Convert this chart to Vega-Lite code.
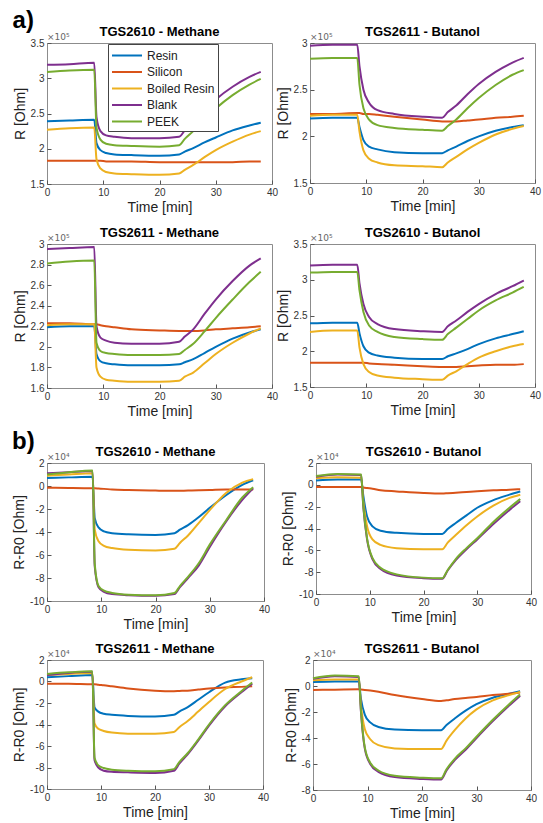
{
"$schema":"https://vega.github.io/schema/vega-lite/v6.json",
"padding":{"left":12,"top":8,"right":0,"bottom":2},
"datasets":{"w":[
{"p":"a1","t":0,"Resin":2.39,"Silicon":1.83,"Boiled Resin":2.27,"Blank":3.19,"PEEK":3.09},
{"p":"a1","t":4,"Resin":2.40,"Silicon":1.83,"Boiled Resin":2.29,"Blank":3.20,"PEEK":3.11},
{"p":"a1","t":8.4,"Resin":2.41,"Silicon":1.83,"Boiled Resin":2.30,"Blank":3.22,"PEEK":3.12},
{"p":"a1","t":8.8,"Resin":2.08,"Silicon":1.83,"Boiled Resin":1.85,"Blank":2.45,"PEEK":2.30},
{"p":"a1","t":9.5,"Resin":1.98,"Silicon":1.83,"Boiled Resin":1.72,"Blank":2.25,"PEEK":2.13},
{"p":"a1","t":10.5,"Resin":1.94,"Silicon":1.82,"Boiled Resin":1.67,"Blank":2.19,"PEEK":2.07},
{"p":"a1","t":12,"Resin":1.92,"Silicon":1.82,"Boiled Resin":1.65,"Blank":2.17,"PEEK":2.05},
{"p":"a1","t":15,"Resin":1.91,"Silicon":1.82,"Boiled Resin":1.64,"Blank":2.15,"PEEK":2.04},
{"p":"a1","t":20,"Resin":1.90,"Silicon":1.81,"Boiled Resin":1.63,"Blank":2.15,"PEEK":2.03},
{"p":"a1","t":23.5,"Resin":1.92,"Silicon":1.81,"Boiled Resin":1.65,"Blank":2.17,"PEEK":2.05},
{"p":"a1","t":24.5,"Resin":1.96,"Silicon":1.81,"Boiled Resin":1.70,"Blank":2.26,"PEEK":2.14},
{"p":"a1","t":26,"Resin":2.01,"Silicon":1.81,"Boiled Resin":1.77,"Blank":2.38,"PEEK":2.25},
{"p":"a1","t":28,"Resin":2.09,"Silicon":1.81,"Boiled Resin":1.88,"Blank":2.55,"PEEK":2.42},
{"p":"a1","t":30,"Resin":2.16,"Silicon":1.81,"Boiled Resin":1.98,"Blank":2.70,"PEEK":2.57},
{"p":"a1","t":33,"Resin":2.26,"Silicon":1.81,"Boiled Resin":2.10,"Blank":2.88,"PEEK":2.76},
{"p":"a1","t":36,"Resin":2.33,"Silicon":1.82,"Boiled Resin":2.20,"Blank":3.02,"PEEK":2.91},
{"p":"a1","t":38,"Resin":2.37,"Silicon":1.82,"Boiled Resin":2.25,"Blank":3.09,"PEEK":2.99},
{"p":"a2","t":0,"Resin":2.19,"Silicon":2.24,"Boiled Resin":2.22,"Blank":2.97,"PEEK":2.83},
{"p":"a2","t":4,"Resin":2.20,"Silicon":2.24,"Boiled Resin":2.23,"Blank":2.98,"PEEK":2.84},
{"p":"a2","t":8.4,"Resin":2.20,"Silicon":2.25,"Boiled Resin":2.23,"Blank":2.98,"PEEK":2.84},
{"p":"a2","t":8.8,"Resin":2.10,"Silicon":2.25,"Boiled Resin":2.05,"Blank":2.75,"PEEK":2.55},
{"p":"a2","t":9.5,"Resin":1.96,"Silicon":2.24,"Boiled Resin":1.85,"Blank":2.50,"PEEK":2.30},
{"p":"a2","t":10.5,"Resin":1.89,"Silicon":2.24,"Boiled Resin":1.76,"Blank":2.36,"PEEK":2.18},
{"p":"a2","t":12,"Resin":1.86,"Silicon":2.23,"Boiled Resin":1.72,"Blank":2.28,"PEEK":2.12},
{"p":"a2","t":15,"Resin":1.83,"Silicon":2.21,"Boiled Resin":1.69,"Blank":2.24,"PEEK":2.09},
{"p":"a2","t":20,"Resin":1.82,"Silicon":2.18,"Boiled Resin":1.68,"Blank":2.21,"PEEK":2.07},
{"p":"a2","t":23.5,"Resin":1.82,"Silicon":2.16,"Boiled Resin":1.67,"Blank":2.20,"PEEK":2.06},
{"p":"a2","t":24.5,"Resin":1.85,"Silicon":2.16,"Boiled Resin":1.72,"Blank":2.26,"PEEK":2.11},
{"p":"a2","t":26,"Resin":1.89,"Silicon":2.16,"Boiled Resin":1.78,"Blank":2.33,"PEEK":2.18},
{"p":"a2","t":28,"Resin":1.95,"Silicon":2.17,"Boiled Resin":1.86,"Blank":2.45,"PEEK":2.30},
{"p":"a2","t":30,"Resin":2.00,"Silicon":2.18,"Boiled Resin":1.93,"Blank":2.56,"PEEK":2.41},
{"p":"a2","t":33,"Resin":2.06,"Silicon":2.20,"Boiled Resin":2.02,"Blank":2.69,"PEEK":2.55},
{"p":"a2","t":36,"Resin":2.10,"Silicon":2.21,"Boiled Resin":2.08,"Blank":2.79,"PEEK":2.66},
{"p":"a2","t":38,"Resin":2.12,"Silicon":2.22,"Boiled Resin":2.11,"Blank":2.84,"PEEK":2.71},
{"p":"a3","t":0,"Resin":2.19,"Silicon":2.23,"Boiled Resin":2.21,"Blank":2.95,"PEEK":2.81},
{"p":"a3","t":4,"Resin":2.20,"Silicon":2.23,"Boiled Resin":2.22,"Blank":2.96,"PEEK":2.83},
{"p":"a3","t":8.4,"Resin":2.20,"Silicon":2.22,"Boiled Resin":2.22,"Blank":2.97,"PEEK":2.84},
{"p":"a3","t":8.8,"Resin":1.93,"Silicon":2.22,"Boiled Resin":1.80,"Blank":2.20,"PEEK":2.04},
{"p":"a3","t":9.5,"Resin":1.86,"Silicon":2.21,"Boiled Resin":1.71,"Blank":2.09,"PEEK":1.96},
{"p":"a3","t":10.5,"Resin":1.84,"Silicon":2.20,"Boiled Resin":1.68,"Blank":2.06,"PEEK":1.94},
{"p":"a3","t":12,"Resin":1.83,"Silicon":2.19,"Boiled Resin":1.67,"Blank":2.04,"PEEK":1.93},
{"p":"a3","t":15,"Resin":1.82,"Silicon":2.17,"Boiled Resin":1.66,"Blank":2.03,"PEEK":1.92},
{"p":"a3","t":20,"Resin":1.82,"Silicon":2.16,"Boiled Resin":1.66,"Blank":2.03,"PEEK":1.92},
{"p":"a3","t":23.5,"Resin":1.83,"Silicon":2.155,"Boiled Resin":1.67,"Blank":2.05,"PEEK":1.93},
{"p":"a3","t":24.5,"Resin":1.85,"Silicon":2.155,"Boiled Resin":1.71,"Blank":2.10,"PEEK":1.97},
{"p":"a3","t":26,"Resin":1.88,"Silicon":2.155,"Boiled Resin":1.75,"Blank":2.17,"PEEK":2.03},
{"p":"a3","t":28,"Resin":1.94,"Silicon":2.16,"Boiled Resin":1.84,"Blank":2.32,"PEEK":2.15},
{"p":"a3","t":30,"Resin":2.00,"Silicon":2.17,"Boiled Resin":1.93,"Blank":2.46,"PEEK":2.28},
{"p":"a3","t":33,"Resin":2.08,"Silicon":2.18,"Boiled Resin":2.04,"Blank":2.64,"PEEK":2.46},
{"p":"a3","t":36,"Resin":2.14,"Silicon":2.19,"Boiled Resin":2.13,"Blank":2.79,"PEEK":2.63},
{"p":"a3","t":38,"Resin":2.17,"Silicon":2.20,"Boiled Resin":2.18,"Blank":2.86,"PEEK":2.73},
{"p":"a4","t":0,"Resin":2.39,"Silicon":1.84,"Boiled Resin":2.27,"Blank":3.20,"PEEK":3.10},
{"p":"a4","t":4,"Resin":2.40,"Silicon":1.84,"Boiled Resin":2.29,"Blank":3.21,"PEEK":3.11},
{"p":"a4","t":8.4,"Resin":2.40,"Silicon":1.84,"Boiled Resin":2.29,"Blank":3.21,"PEEK":3.11},
{"p":"a4","t":8.8,"Resin":2.25,"Silicon":1.84,"Boiled Resin":2.05,"Blank":2.95,"PEEK":2.85},
{"p":"a4","t":9.5,"Resin":2.07,"Silicon":1.84,"Boiled Resin":1.82,"Blank":2.66,"PEEK":2.55},
{"p":"a4","t":10.5,"Resin":1.98,"Silicon":1.83,"Boiled Resin":1.71,"Blank":2.48,"PEEK":2.36},
{"p":"a4","t":12,"Resin":1.94,"Silicon":1.82,"Boiled Resin":1.66,"Blank":2.38,"PEEK":2.27},
{"p":"a4","t":15,"Resin":1.91,"Silicon":1.81,"Boiled Resin":1.63,"Blank":2.31,"PEEK":2.20},
{"p":"a4","t":20,"Resin":1.89,"Silicon":1.79,"Boiled Resin":1.61,"Blank":2.28,"PEEK":2.17},
{"p":"a4","t":23.5,"Resin":1.89,"Silicon":1.78,"Boiled Resin":1.60,"Blank":2.27,"PEEK":2.16},
{"p":"a4","t":24.5,"Resin":1.93,"Silicon":1.78,"Boiled Resin":1.66,"Blank":2.35,"PEEK":2.24},
{"p":"a4","t":26,"Resin":1.97,"Silicon":1.78,"Boiled Resin":1.72,"Blank":2.43,"PEEK":2.33},
{"p":"a4","t":28,"Resin":2.03,"Silicon":1.79,"Boiled Resin":1.82,"Blank":2.55,"PEEK":2.45},
{"p":"a4","t":30,"Resin":2.10,"Silicon":1.80,"Boiled Resin":1.91,"Blank":2.66,"PEEK":2.57},
{"p":"a4","t":33,"Resin":2.18,"Silicon":1.81,"Boiled Resin":2.00,"Blank":2.80,"PEEK":2.71},
{"p":"a4","t":36,"Resin":2.24,"Silicon":1.81,"Boiled Resin":2.07,"Blank":2.91,"PEEK":2.82},
{"p":"a4","t":38,"Resin":2.28,"Silicon":1.82,"Boiled Resin":2.10,"Blank":2.99,"PEEK":2.90},
{"p":"b1","t":0,"Resin":0.7,"Silicon":-0.15,"Boiled Resin":0.9,"Blank":1.1,"PEEK":1.0},
{"p":"b1","t":4,"Resin":0.75,"Silicon":-0.18,"Boiled Resin":1.0,"Blank":1.2,"PEEK":1.2},
{"p":"b1","t":8.4,"Resin":0.8,"Silicon":-0.2,"Boiled Resin":1.1,"Blank":1.3,"PEEK":1.35},
{"p":"b1","t":8.8,"Resin":-2.8,"Silicon":-0.2,"Boiled Resin":-3.8,"Blank":-7.0,"PEEK":-6.8},
{"p":"b1","t":9.5,"Resin":-3.6,"Silicon":-0.22,"Boiled Resin":-4.8,"Blank":-8.8,"PEEK":-8.7},
{"p":"b1","t":10.5,"Resin":-3.95,"Silicon":-0.25,"Boiled Resin":-5.2,"Blank":-9.2,"PEEK":-9.1},
{"p":"b1","t":12,"Resin":-4.1,"Silicon":-0.3,"Boiled Resin":-5.4,"Blank":-9.4,"PEEK":-9.3},
{"p":"b1","t":15,"Resin":-4.2,"Silicon":-0.35,"Boiled Resin":-5.55,"Blank":-9.5,"PEEK":-9.45},
{"p":"b1","t":20,"Resin":-4.25,"Silicon":-0.4,"Boiled Resin":-5.6,"Blank":-9.55,"PEEK":-9.5},
{"p":"b1","t":23.5,"Resin":-4.1,"Silicon":-0.42,"Boiled Resin":-5.45,"Blank":-9.4,"PEEK":-9.3},
{"p":"b1","t":24.5,"Resin":-3.8,"Silicon":-0.41,"Boiled Resin":-4.95,"Blank":-8.8,"PEEK":-8.7},
{"p":"b1","t":26,"Resin":-3.4,"Silicon":-0.4,"Boiled Resin":-4.3,"Blank":-8.0,"PEEK":-7.9},
{"p":"b1","t":28,"Resin":-2.7,"Silicon":-0.38,"Boiled Resin":-3.2,"Blank":-6.9,"PEEK":-6.7},
{"p":"b1","t":30,"Resin":-1.9,"Silicon":-0.35,"Boiled Resin":-2.1,"Blank":-5.3,"PEEK":-5.1},
{"p":"b1","t":33,"Resin":-0.8,"Silicon":-0.3,"Boiled Resin":-0.6,"Blank":-3.1,"PEEK":-3.0},
{"p":"b1","t":36,"Resin":0.1,"Silicon":-0.3,"Boiled Resin":0.3,"Blank":-1.2,"PEEK":-1.0},
{"p":"b1","t":38,"Resin":0.5,"Silicon":-0.3,"Boiled Resin":0.6,"Blank":-0.2,"PEEK":-0.1},
{"p":"b2","t":0,"Resin":0.4,"Silicon":-0.2,"Boiled Resin":0.6,"Blank":0.75,"PEEK":0.8},
{"p":"b2","t":4,"Resin":0.5,"Silicon":-0.2,"Boiled Resin":0.7,"Blank":0.95,"PEEK":1.0},
{"p":"b2","t":8.4,"Resin":0.5,"Silicon":-0.2,"Boiled Resin":0.65,"Blank":0.9,"PEEK":0.95},
{"p":"b2","t":8.8,"Resin":-1.0,"Silicon":-0.25,"Boiled Resin":-1.5,"Blank":-2.0,"PEEK":-1.9},
{"p":"b2","t":9.5,"Resin":-2.9,"Silicon":-0.3,"Boiled Resin":-3.8,"Blank":-5.0,"PEEK":-4.9},
{"p":"b2","t":10.5,"Resin":-3.8,"Silicon":-0.35,"Boiled Resin":-5.0,"Blank":-6.8,"PEEK":-6.7},
{"p":"b2","t":12,"Resin":-4.2,"Silicon":-0.5,"Boiled Resin":-5.5,"Blank":-7.7,"PEEK":-7.6},
{"p":"b2","t":15,"Resin":-4.4,"Silicon":-0.6,"Boiled Resin":-5.8,"Blank":-8.3,"PEEK":-8.2},
{"p":"b2","t":20,"Resin":-4.5,"Silicon":-0.75,"Boiled Resin":-5.9,"Blank":-8.55,"PEEK":-8.5},
{"p":"b2","t":23.5,"Resin":-4.5,"Silicon":-0.8,"Boiled Resin":-5.9,"Blank":-8.6,"PEEK":-8.55},
{"p":"b2","t":24.5,"Resin":-4.05,"Silicon":-0.77,"Boiled Resin":-5.3,"Blank":-7.85,"PEEK":-7.8},
{"p":"b2","t":26,"Resin":-3.5,"Silicon":-0.72,"Boiled Resin":-4.6,"Blank":-6.9,"PEEK":-6.8},
{"p":"b2","t":28,"Resin":-2.8,"Silicon":-0.65,"Boiled Resin":-3.7,"Blank":-5.9,"PEEK":-5.8},
{"p":"b2","t":30,"Resin":-2.1,"Silicon":-0.58,"Boiled Resin":-2.9,"Blank":-5.0,"PEEK":-4.9},
{"p":"b2","t":33,"Resin":-1.4,"Silicon":-0.5,"Boiled Resin":-1.9,"Blank":-3.6,"PEEK":-3.4},
{"p":"b2","t":36,"Resin":-0.9,"Silicon":-0.45,"Boiled Resin":-1.2,"Blank":-2.3,"PEEK":-2.1},
{"p":"b2","t":38,"Resin":-0.6,"Silicon":-0.4,"Boiled Resin":-0.9,"Blank":-1.5,"PEEK":-1.3},
{"p":"b3","t":0,"Resin":0.4,"Silicon":-0.2,"Boiled Resin":0.6,"Blank":0.6,"PEEK":0.7},
{"p":"b3","t":4,"Resin":0.5,"Silicon":-0.2,"Boiled Resin":0.7,"Blank":0.8,"PEEK":0.85},
{"p":"b3","t":8.4,"Resin":0.6,"Silicon":-0.25,"Boiled Resin":0.8,"Blank":0.9,"PEEK":0.95},
{"p":"b3","t":8.8,"Resin":-2.4,"Silicon":-0.25,"Boiled Resin":-3.9,"Blank":-7.3,"PEEK":-7.1},
{"p":"b3","t":9.5,"Resin":-2.8,"Silicon":-0.3,"Boiled Resin":-4.4,"Blank":-8.0,"PEEK":-7.8},
{"p":"b3","t":10.5,"Resin":-3.0,"Silicon":-0.35,"Boiled Resin":-4.6,"Blank":-8.3,"PEEK":-8.05},
{"p":"b3","t":12,"Resin":-3.1,"Silicon":-0.45,"Boiled Resin":-4.75,"Blank":-8.4,"PEEK":-8.2},
{"p":"b3","t":15,"Resin":-3.2,"Silicon":-0.65,"Boiled Resin":-4.85,"Blank":-8.45,"PEEK":-8.3},
{"p":"b3","t":20,"Resin":-3.25,"Silicon":-0.85,"Boiled Resin":-4.85,"Blank":-8.5,"PEEK":-8.35},
{"p":"b3","t":23.5,"Resin":-3.1,"Silicon":-0.9,"Boiled Resin":-4.7,"Blank":-8.3,"PEEK":-8.15},
{"p":"b3","t":24.5,"Resin":-2.8,"Silicon":-0.88,"Boiled Resin":-4.25,"Blank":-7.65,"PEEK":-7.5},
{"p":"b3","t":26,"Resin":-2.4,"Silicon":-0.85,"Boiled Resin":-3.7,"Blank":-6.8,"PEEK":-6.7},
{"p":"b3","t":28,"Resin":-1.7,"Silicon":-0.75,"Boiled Resin":-2.8,"Blank":-5.5,"PEEK":-5.4},
{"p":"b3","t":30,"Resin":-1.0,"Silicon":-0.65,"Boiled Resin":-1.9,"Blank":-4.1,"PEEK":-4.0},
{"p":"b3","t":33,"Resin":-0.1,"Silicon":-0.55,"Boiled Resin":-0.7,"Blank":-2.3,"PEEK":-2.2},
{"p":"b3","t":36,"Resin":0.2,"Silicon":-0.5,"Boiled Resin":0.0,"Blank":-1.0,"PEEK":-0.9},
{"p":"b3","t":38,"Resin":0.3,"Silicon":-0.45,"Boiled Resin":0.4,"Blank":-0.2,"PEEK":-0.1},
{"p":"b4","t":0,"Resin":0.3,"Silicon":-0.3,"Boiled Resin":0.45,"Blank":0.55,"PEEK":0.6},
{"p":"b4","t":4,"Resin":0.35,"Silicon":-0.28,"Boiled Resin":0.5,"Blank":0.75,"PEEK":0.8},
{"p":"b4","t":8.4,"Resin":0.35,"Silicon":-0.25,"Boiled Resin":0.5,"Blank":0.7,"PEEK":0.75},
{"p":"b4","t":8.8,"Resin":-1.0,"Silicon":-0.27,"Boiled Resin":-1.5,"Blank":-2.0,"PEEK":-1.9},
{"p":"b4","t":9.5,"Resin":-2.2,"Silicon":-0.3,"Boiled Resin":-3.3,"Blank":-4.8,"PEEK":-4.7},
{"p":"b4","t":10.5,"Resin":-2.8,"Silicon":-0.35,"Boiled Resin":-4.1,"Blank":-6.0,"PEEK":-5.9},
{"p":"b4","t":12,"Resin":-3.15,"Silicon":-0.45,"Boiled Resin":-4.55,"Blank":-6.6,"PEEK":-6.5},
{"p":"b4","t":15,"Resin":-3.35,"Silicon":-0.7,"Boiled Resin":-4.8,"Blank":-7.0,"PEEK":-6.9},
{"p":"b4","t":20,"Resin":-3.4,"Silicon":-1.0,"Boiled Resin":-4.85,"Blank":-7.15,"PEEK":-7.05},
{"p":"b4","t":23.5,"Resin":-3.4,"Silicon":-1.15,"Boiled Resin":-4.85,"Blank":-7.2,"PEEK":-7.1},
{"p":"b4","t":24.5,"Resin":-3.0,"Silicon":-1.1,"Boiled Resin":-4.2,"Blank":-6.5,"PEEK":-6.4},
{"p":"b4","t":26,"Resin":-2.5,"Silicon":-1.0,"Boiled Resin":-3.4,"Blank":-5.7,"PEEK":-5.6},
{"p":"b4","t":28,"Resin":-1.9,"Silicon":-0.92,"Boiled Resin":-2.5,"Blank":-4.9,"PEEK":-4.8},
{"p":"b4","t":30,"Resin":-1.4,"Silicon":-0.85,"Boiled Resin":-1.8,"Blank":-4.0,"PEEK":-3.9},
{"p":"b4","t":33,"Resin":-0.9,"Silicon":-0.7,"Boiled Resin":-1.1,"Blank":-2.7,"PEEK":-2.6},
{"p":"b4","t":36,"Resin":-0.6,"Silicon":-0.6,"Boiled Resin":-0.7,"Blank":-1.5,"PEEK":-1.4},
{"p":"b4","t":38,"Resin":-0.4,"Silicon":-0.5,"Boiled Resin":-0.45,"Blank":-0.75,"PEEK":-0.65}
]},
"vconcat":[
{"title":{"text":"a)","anchor":"start","frame":"bounds","fontSize":24,"fontWeight":"bold","offset":-7},
 "spacing":11,
 "vconcat":[
 {"spacing":-4,"hconcat":[
  {"title":"TGS2610 - Methane","width":225,"height":141,"layer":[
   {"data":{"name":"w"},"transform":[{"filter":"datum.p=='a1'"},{"fold":["Resin","Silicon","Boiled Resin","Blank","PEEK"],"as":["m","v"]}],
    "mark":{"type":"line","strokeWidth":2,"interpolate":"monotone"},
    "encoding":{"x":{"field":"t","type":"quantitative","scale":{"domain":[0,40],"nice":false},"axis":{"title":"Time [min]","values":[0,10,20,30,40],"tickCount":20}},
     "y":{"field":"v","type":"quantitative","scale":{"domain":[1.5,3.5],"nice":false,"zero":false},"axis":{"title":"R [Ohm]","values":[1.5,2,2.5,3,3.5],"labelExpr":"''+datum.value","tickCount":20}},
     "color":{"field":"m","type":"nominal","scale":{"domain":["Resin","Silicon","Boiled Resin","Blank","PEEK"],"range":["#0072BD","#D95319","#EDB120","#7E2F8E","#77AC30"]},"legend":{"title":null}}}},
   {"data":{"values":[{}]},"mark":{"type":"text","align":"left","baseline":"bottom","fontSize":9,"color":"#666","dy":-1,"font":"DejaVu Sans"},
    "encoding":{"x":{"datum":0},"y":{"datum":3.5},"text":{"value":"×10⁵"}}}]},
  {"title":"TGS2611 - Butanol","width":225,"height":140,"layer":[
   {"data":{"name":"w"},"transform":[{"filter":"datum.p=='a2'"},{"fold":["Resin","Silicon","Boiled Resin","Blank","PEEK"],"as":["m","v"]}],
    "mark":{"type":"line","strokeWidth":2,"interpolate":"monotone"},
    "encoding":{"x":{"field":"t","type":"quantitative","scale":{"domain":[0,40],"nice":false},"axis":{"title":"Time [min]","values":[0,10,20,30,40],"tickCount":20}},
     "y":{"field":"v","type":"quantitative","scale":{"domain":[1.5,3],"nice":false,"zero":false},"axis":{"title":"R [Ohm]","values":[1.5,2,2.5,3],"labelExpr":"''+datum.value","tickCount":20}},
     "color":{"field":"m","type":"nominal","scale":{"domain":["Resin","Silicon","Boiled Resin","Blank","PEEK"],"range":["#0072BD","#D95319","#EDB120","#7E2F8E","#77AC30"]},"legend":{"title":null}}}},
   {"data":{"values":[{}]},"mark":{"type":"text","align":"left","baseline":"bottom","fontSize":9,"color":"#666","dy":-1,"font":"DejaVu Sans"},
    "encoding":{"x":{"datum":0},"y":{"datum":3},"text":{"value":"×10⁵"}}}]}
 ]},
 {"spacing":-4,"hconcat":[
  {"title":"TGS2611 - Methane","width":225,"height":144,"layer":[
   {"data":{"name":"w"},"transform":[{"filter":"datum.p=='a3'"},{"fold":["Resin","Silicon","Boiled Resin","Blank","PEEK"],"as":["m","v"]}],
    "mark":{"type":"line","strokeWidth":2,"interpolate":"monotone"},
    "encoding":{"x":{"field":"t","type":"quantitative","scale":{"domain":[0,40],"nice":false},"axis":{"title":"Time [min]","values":[0,10,20,30,40],"tickCount":20}},
     "y":{"field":"v","type":"quantitative","scale":{"domain":[1.6,3],"nice":false,"zero":false},"axis":{"title":"R [Ohm]","values":[1.6,1.8,2,2.2,2.4,2.6,2.8,3],"labelExpr":"''+datum.value","tickCount":20}},
     "color":{"field":"m","type":"nominal","scale":{"domain":["Resin","Silicon","Boiled Resin","Blank","PEEK"],"range":["#0072BD","#D95319","#EDB120","#7E2F8E","#77AC30"]},"legend":{"title":null}}}},
   {"data":{"values":[{}]},"mark":{"type":"text","align":"left","baseline":"bottom","fontSize":9,"color":"#666","dy":-1,"font":"DejaVu Sans"},
    "encoding":{"x":{"datum":0},"y":{"datum":3},"text":{"value":"×10⁵"}}}]},
  {"title":"TGS2610 - Butanol","width":225,"height":143,"layer":[
   {"data":{"name":"w"},"transform":[{"filter":"datum.p=='a4'"},{"fold":["Resin","Silicon","Boiled Resin","Blank","PEEK"],"as":["m","v"]}],
    "mark":{"type":"line","strokeWidth":2,"interpolate":"monotone"},
    "encoding":{"x":{"field":"t","type":"quantitative","scale":{"domain":[0,40],"nice":false},"axis":{"title":"Time [min]","values":[0,10,20,30,40],"tickCount":20}},
     "y":{"field":"v","type":"quantitative","scale":{"domain":[1.5,3.5],"nice":false,"zero":false},"axis":{"title":"R [Ohm]","values":[1.5,2,2.5,3,3.5],"labelExpr":"''+datum.value","tickCount":20}},
     "color":{"field":"m","type":"nominal","scale":{"domain":["Resin","Silicon","Boiled Resin","Blank","PEEK"],"range":["#0072BD","#D95319","#EDB120","#7E2F8E","#77AC30"]},"legend":{"title":null}}}},
   {"data":{"values":[{}]},"mark":{"type":"text","align":"left","baseline":"bottom","fontSize":9,"color":"#666","dy":-1,"font":"DejaVu Sans"},
    "encoding":{"x":{"datum":0},"y":{"datum":3.5},"text":{"value":"×10⁵"}}}]}
 ]}
 ]},
{"title":{"text":"b)","anchor":"start","frame":"bounds","fontSize":24,"fontWeight":"bold","offset":-8},
 "spacing":10,
 "vconcat":[
 {"spacing":10,"hconcat":[
  {"title":"TGS2610 - Methane","width":217,"height":138,"layer":[
   {"data":{"name":"w"},"transform":[{"filter":"datum.p=='b1'"},{"fold":["Resin","Silicon","Boiled Resin","Blank","PEEK"],"as":["m","v"]}],
    "mark":{"type":"line","strokeWidth":2,"interpolate":"monotone"},
    "encoding":{"x":{"field":"t","type":"quantitative","scale":{"domain":[0,40],"nice":false},"axis":{"title":"Time [min]","values":[0,10,20,30,40],"tickCount":20}},
     "y":{"field":"v","type":"quantitative","scale":{"domain":[-10,2],"nice":false,"zero":false},"axis":{"title":"R-R0 [Ohm]","values":[-10,-8,-6,-4,-2,0,2],"labelExpr":"''+datum.value","tickCount":20}},
     "color":{"field":"m","type":"nominal","scale":{"domain":["Resin","Silicon","Boiled Resin","Blank","PEEK"],"range":["#0072BD","#D95319","#EDB120","#7E2F8E","#77AC30"]},"legend":{"title":null}}}},
   {"data":{"values":[{}]},"mark":{"type":"text","align":"left","baseline":"bottom","fontSize":9,"color":"#666","dy":-1,"font":"DejaVu Sans"},
    "encoding":{"x":{"datum":0},"y":{"datum":2},"text":{"value":"×10⁴"}}}]},
  {"title":"TGS2610 - Butanol","width":215,"height":131,"layer":[
   {"data":{"name":"w"},"transform":[{"filter":"datum.p=='b2'"},{"fold":["Resin","Silicon","Boiled Resin","Blank","PEEK"],"as":["m","v"]}],
    "mark":{"type":"line","strokeWidth":2,"interpolate":"monotone"},
    "encoding":{"x":{"field":"t","type":"quantitative","scale":{"domain":[0,40],"nice":false},"axis":{"title":"Time [min]","values":[0,10,20,30,40],"tickCount":20}},
     "y":{"field":"v","type":"quantitative","scale":{"domain":[-10,2],"nice":false,"zero":false},"axis":{"title":"R-R0 [Ohm]","values":[-10,-8,-6,-4,-2,0,2],"labelExpr":"''+datum.value","tickCount":20}},
     "color":{"field":"m","type":"nominal","scale":{"domain":["Resin","Silicon","Boiled Resin","Blank","PEEK"],"range":["#0072BD","#D95319","#EDB120","#7E2F8E","#77AC30"]},"legend":{"title":null}}}},
   {"data":{"values":[{}]},"mark":{"type":"text","align":"left","baseline":"bottom","fontSize":9,"color":"#666","dy":-1,"font":"DejaVu Sans"},
    "encoding":{"x":{"datum":0},"y":{"datum":2},"text":{"value":"×10⁴"}}}]}
 ]},
 {"spacing":13,"hconcat":[
  {"title":"TGS2611 - Methane","width":216,"height":129,"layer":[
   {"data":{"name":"w"},"transform":[{"filter":"datum.p=='b3'"},{"fold":["Resin","Silicon","Boiled Resin","Blank","PEEK"],"as":["m","v"]}],
    "mark":{"type":"line","strokeWidth":2,"interpolate":"monotone"},
    "encoding":{"x":{"field":"t","type":"quantitative","scale":{"domain":[0,40],"nice":false},"axis":{"title":"Time [min]","values":[0,10,20,30,40],"tickCount":20}},
     "y":{"field":"v","type":"quantitative","scale":{"domain":[-10,2],"nice":false,"zero":false},"axis":{"title":"R-R0 [Ohm]","values":[-10,-8,-6,-4,-2,0,2],"labelExpr":"''+datum.value","tickCount":20}},
     "color":{"field":"m","type":"nominal","scale":{"domain":["Resin","Silicon","Boiled Resin","Blank","PEEK"],"range":["#0072BD","#D95319","#EDB120","#7E2F8E","#77AC30"]},"legend":{"title":null}}}},
   {"data":{"values":[{}]},"mark":{"type":"text","align":"left","baseline":"bottom","fontSize":9,"color":"#666","dy":-1,"font":"DejaVu Sans"},
    "encoding":{"x":{"datum":0},"y":{"datum":2},"text":{"value":"×10⁴"}}}]},
  {"title":"TGS2611 - Butanol","width":218,"height":130,"layer":[
   {"data":{"name":"w"},"transform":[{"filter":"datum.p=='b4'"},{"fold":["Resin","Silicon","Boiled Resin","Blank","PEEK"],"as":["m","v"]}],
    "mark":{"type":"line","strokeWidth":2,"interpolate":"monotone"},
    "encoding":{"x":{"field":"t","type":"quantitative","scale":{"domain":[0,40],"nice":false},"axis":{"title":"Time [min]","values":[0,10,20,30,40],"tickCount":20}},
     "y":{"field":"v","type":"quantitative","scale":{"domain":[-8,2],"nice":false,"zero":false},"axis":{"title":"R-R0 [Ohm]","values":[-8,-6,-4,-2,0,2],"labelExpr":"''+datum.value","tickCount":20}},
     "color":{"field":"m","type":"nominal","scale":{"domain":["Resin","Silicon","Boiled Resin","Blank","PEEK"],"range":["#0072BD","#D95319","#EDB120","#7E2F8E","#77AC30"]},"legend":{"title":null}}}},
   {"data":{"values":[{}]},"mark":{"type":"text","align":"left","baseline":"bottom","fontSize":9,"color":"#666","dy":-1,"font":"DejaVu Sans"},
    "encoding":{"x":{"datum":0},"y":{"datum":2},"text":{"value":"×10⁴"}}}]}
 ]}
 ]}
],
"spacing":10,
"resolve":{"scale":{"x":"independent","y":"independent"}},
"config":{
 "font":"Liberation Sans",
 "view":{"stroke":"#8c8c8c","strokeWidth":1},
 "axis":{"domain":false,"grid":false,"tickColor":"#555","tickSize":-4,"labelPadding":7,"labelFontSize":10,"labelColor":"#333","titleFontSize":14,"titleFontWeight":"normal","titleColor":"#222","titlePadding":3,"labelOverlap":false,"labelFlush":false,"labelBound":false},
 "title":{"fontSize":13,"fontWeight":"bold","color":"#000","offset":-6},
 "legend":{"orient":"none","legendX":61,"legendY":1,"strokeColor":"#444","fillColor":"#fff","padding":3,"symbolType":"M-1,0H3","symbolStrokeWidth":2,"symbolSize":225,"labelOffset":19,"labelFontSize":12,"labelColor":"#222","rowPadding":1.5}
}
}
